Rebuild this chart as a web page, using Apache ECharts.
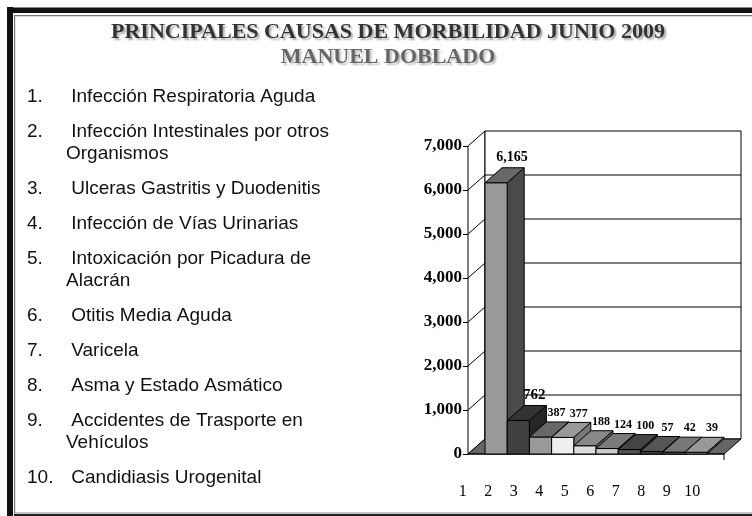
<!DOCTYPE html>
<html>
<head>
<meta charset="utf-8">
<script src="https://cdn.jsdelivr.net/npm/echarts@6/dist/echarts.min.js"></script>
<style>
  html, body { margin: 0; padding: 0; background: #fff; }
  #chart { width: 752px; height: 516px; }
</style>
</head>
<body>
<div id="chart"></div>
<script>
// Principales causas de morbilidad, junio 2009 - Manuel Doblado
const categorias = ["1", "2", "3", "4", "5", "6", "7", "8", "9", "10"]
const casos = [6165, 762, 387, 377, 188, 124, 100, 57, 42, 39]
const causas = [
  "Infección Respiratoria Aguda",
  "Infección Intestinales por otros\nOrganismos",
  "Ulceras Gastritis y Duodenitis",
  "Infección de Vías Urinarias",
  "Intoxicación por Picadura de\nAlacrán",
  "Otitis Media Aguda",
  "Varicela",
  "Asma y Estado Asmático",
  "Accidentes de Trasporte en\nVehículos",
  "Candidiasis Urogenital"
]
const ejeMin = 0
const ejeMax = 7000
const ejeIntervalo = 1000

// tonos de cada barra: frente, tapa, costado
const tonos = [
  ["#999999", "#686868", "#4a4a4a"],
  ["#404040", "#333333", "#262626"],
  ["#999999", "#686868", "#505050"],
  ["#eeeeee", "#999999", "#777777"],
  ["#dddddd", "#888888", "#666666"],
  ["#cccccc", "#7a7a7a", "#5a5a5a"],
  ["#555555", "#444444", "#333333"],
  ["#444444", "#555555", "#333333"],
  ["#666666", "#777777", "#555555"],
  ["#aaaaaa", "#999999", "#777777"]
]
const tamEtiqueta = [14, 15, 12, 12, 12, 12, 12, 12, 12, 12]

// profundidad del efecto 3D (px)
const DX = 17
const DY = -15
const PAD = 17

const SERIF = "Liberation Serif"
const SANS = "Liberation Sans"

const fmt = (v) => v.toLocaleString("en-US")

function renderCaja (params, api) {
  const cs = params.coordSys
  const x0 = cs.x - PAD
  const x1 = cs.x + cs.width + PAD
  const y0 = api.coord([0, ejeMin])[1]
  const yTop = api.coord([0, ejeMax])[1]
  const negro = { stroke: "#000", lineWidth: 1 }
  const children = []
  // pared izquierda
  children.push({
    type: "polygon",
    shape: { points: [[x0, yTop], [x0 + DX, yTop + DY], [x0 + DX, y0 + DY], [x0, y0]] },
    style: { fill: "#fff", ...negro }
  })
  // pared del fondo
  children.push({
    type: "rect",
    shape: { x: x0 + DX, y: yTop + DY, width: x1 - x0, height: y0 - yTop },
    style: { fill: "#fff", ...negro }
  })
  for (let v = ejeMin + ejeIntervalo; v < ejeMax; v += ejeIntervalo) {
    const y = api.coord([0, v])[1]
    children.push({
      type: "line",
      shape: { x1: x0 + DX, y1: y + DY, x2: x1 + DX, y2: y + DY },
      style: negro
    })
    children.push({
      type: "line",
      shape: { x1: x0, y1: y, x2: x0 + DX, y2: y + DY },
      style: negro
    })
  }
  // piso
  children.push({
    type: "polygon",
    shape: { points: [[x0, y0], [x1, y0], [x1 + DX, y0 + DY], [x0 + DX, y0 + DY]] },
    style: { fill: "#666", ...negro }
  })
  // eje x frontal
  children.push({ type: "line", shape: { x1: x0, y1: y0, x2: x1, y2: y0 }, style: negro })
  children.push({ type: "line", shape: { x1: x1, y1: y0, x2: x1, y2: y0 + 6 }, style: negro })
  return { type: "group", children }
}

function renderBarra (params, api) {
  const i = api.value(0)
  const v = api.value(1)
  const top = api.coord([i, v])
  const base = api.coord([i, 0])
  const w = api.size([1, 0])[0]
  const xl = top[0] - w / 2
  const xr = top[0] + w / 2
  const yt = top[1]
  const yb = base[1]
  const [frente, tapa, costado] = tonos[params.dataIndex]
  return {
    type: "group",
    children: [
      {
        type: "polygon",
        shape: { points: [[xr, yt], [xr + DX, yt + DY], [xr + DX, yb + DY], [xr, yb]] },
        style: { fill: costado, stroke: "#000", lineWidth: 1 }
      },
      {
        type: "rect",
        shape: { x: xl, y: yt, width: w, height: yb - yt },
        style: { fill: frente, stroke: "#000", lineWidth: 1 }
      },
      {
        type: "polygon",
        shape: { points: [[xl, yt], [xr, yt], [xr + DX, yt + DY], [xl + DX, yt + DY]] },
        style: { fill: tapa, stroke: "#000", lineWidth: 1 }
      },
      {
        type: "text",
        x: top[0] + 16,
        y: yt + DY - 3,
        style: {
          text: fmt(v),
          fill: "#000",
          fontFamily: SERIF,
          fontWeight: "bold",
          fontSize: tamEtiqueta[params.dataIndex],
          align: "center",
          verticalAlign: "bottom"
        }
      }
    ]
  }
}

// lista de causas a la izquierda
const lista = []
let yItem = 96.5
causas.forEach((c, idx) => {
  const lineas = c.split("\n").length
  lista.push({
    type: "text",
    x: 27,
    y: yItem,
    style: {
      text: (idx + 1) + ".",
      fill: "#111",
      fontFamily: SANS,
      fontSize: 19,
      verticalAlign: "middle"
    }
  })
  lista.push({
    type: "text",
    x: 66,
    y: yItem - 11,
    style: {
      text: " " + c,
      fill: "#111",
      fontFamily: SANS,
      fontSize: 19,
      lineHeight: 22,
      verticalAlign: "top"
    }
  })
  yItem += 35 + 22 * (lineas - 1)
})

const marco = [
  { type: "rect", shape: { x: 7, y: 7, width: 745, height: 1 }, style: { fill: "#888" } },
  { type: "rect", shape: { x: 7, y: 8, width: 745, height: 5 }, style: { fill: "#111" } },
  { type: "rect", shape: { x: 14, y: 15, width: 738, height: 1.2 }, style: { fill: "#777" } },
  { type: "rect", shape: { x: 7, y: 7, width: 6, height: 509 }, style: { fill: "#111" } },
  { type: "rect", shape: { x: 14, y: 15, width: 1.2, height: 498 }, style: { fill: "#777" } },
  { type: "rect", shape: { x: 14, y: 512.5, width: 738, height: 1 }, style: { fill: "#888" } },
  { type: "rect", shape: { x: 14, y: 514, width: 738, height: 2 }, style: { fill: "#222" } }
]

const titulo = [
  {
    type: "text",
    x: 388,
    y: 32.5,
    style: {
      text: "PRINCIPALES CAUSAS DE MORBILIDAD JUNIO 2009",
      fill: "#333",
      fontFamily: SERIF,
      fontWeight: "bold",
      fontSize: 22,
      align: "center",
      verticalAlign: "middle",
      textShadowColor: "#aaa",
      textShadowOffsetX: 2,
      textShadowOffsetY: 2,
      textShadowBlur: 2
    }
  },
  {
    type: "text",
    x: 388,
    y: 57,
    style: {
      text: "MANUEL DOBLADO",
      fill: "#666",
      fontFamily: SERIF,
      fontWeight: "bold",
      fontSize: 22,
      align: "center",
      verticalAlign: "middle",
      textShadowColor: "#bbb",
      textShadowOffsetX: 2,
      textShadowOffsetY: 2,
      textShadowBlur: 2
    }
  }
]

const chart = echarts.init(document.getElementById("chart"), null, { renderer: "canvas" })

const option = {
  backgroundColor: "#fff",
  animation: false,
  grid: [
    { left: 485, right: 45, top: 146, bottom: 62 },
    { left: 450, right: 47, top: 146, bottom: 62 }
  ],
  xAxis: [
    {
      gridIndex: 0,
      type: "category",
      data: categorias,
      boundaryGap: true,
      axisLine: { show: false },
      axisTick: { show: false },
      axisLabel: { show: false }
    },
    {
      gridIndex: 1,
      type: "category",
      data: categorias,
      axisLine: { show: false },
      axisTick: { show: false },
      axisLabel: {
        interval: 0,
        margin: 30,
        color: "#000",
        fontFamily: SERIF,
        fontSize: 16
      }
    }
  ],
  yAxis: [
    {
      gridIndex: 0,
      type: "value",
      min: ejeMin,
      max: ejeMax,
      interval: ejeIntervalo,
      offset: PAD,
      axisLine: { show: true, lineStyle: { color: "#000", width: 1 } },
      axisTick: { show: true, length: 5, lineStyle: { color: "#000" } },
      splitLine: { show: false },
      axisLabel: {
        margin: 6,
        color: "#000",
        fontFamily: SERIF,
        fontWeight: "bold",
        fontSize: 17,
        formatter: (v) => fmt(v)
      }
    },
    {
      gridIndex: 1,
      type: "value",
      show: false,
      min: ejeMin,
      max: ejeMax
    }
  ],
  series: [
    {
      type: "custom",
      name: "caja",
      xAxisIndex: 0,
      yAxisIndex: 0,
      clip: false,
      z: 1,
      silent: true,
      renderItem: renderCaja,
      data: [[0, 0]]
    },
    {
      type: "custom",
      name: "Casos",
      xAxisIndex: 0,
      yAxisIndex: 0,
      clip: false,
      z: 2,
      renderItem: renderBarra,
      data: casos.map((v, i) => [i, v])
    }
  ],
  graphic: [...marco, ...titulo, ...lista]
}

chart.setOption(option)
</script>
</body>
</html>
